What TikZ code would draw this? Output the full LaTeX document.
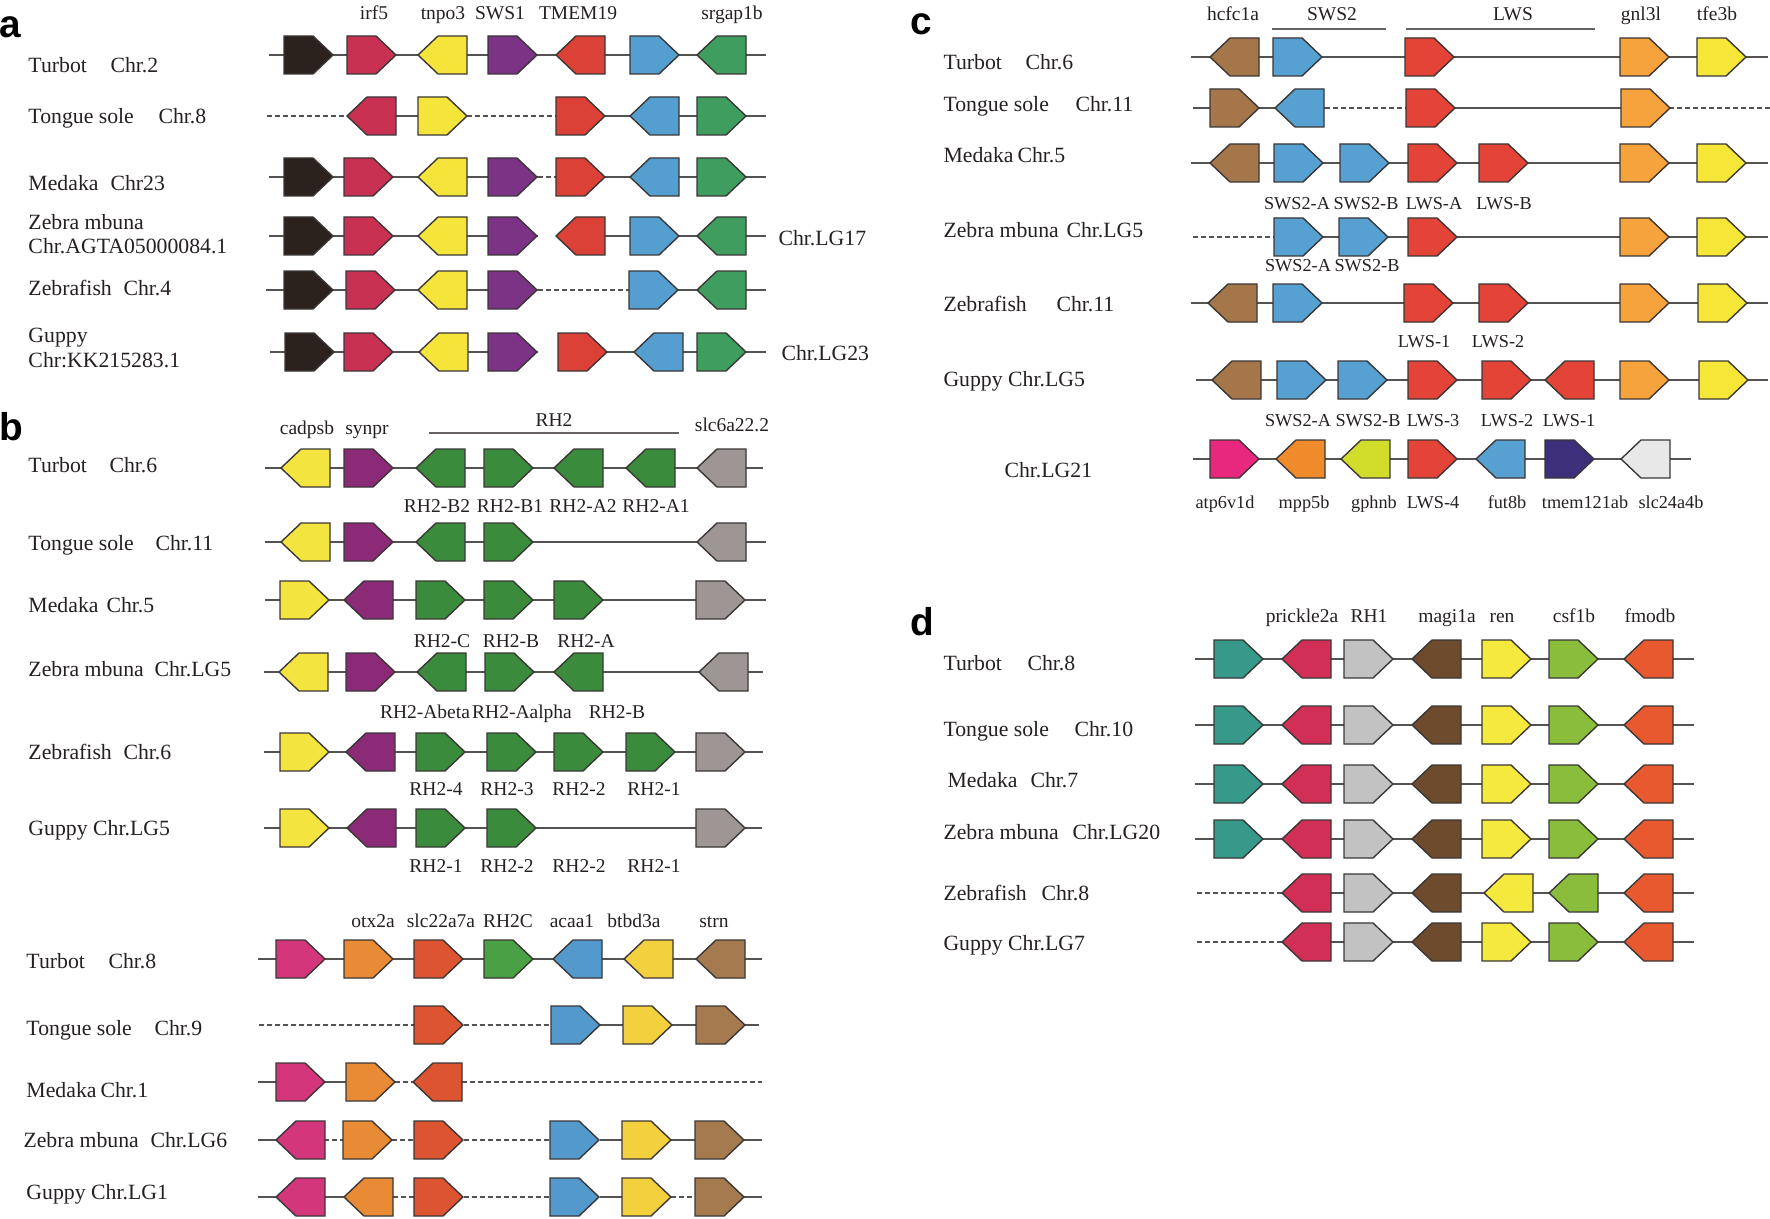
\documentclass[tikz,border=0pt]{standalone}
\usepackage{fontspec}
\setmainfont{Liberation Serif}
\newfontfamily\lettfont{Liberation Sans}
\definecolor{txt}{HTML}{262020}
\definecolor{edge}{HTML}{3A3636}
\definecolor{linec}{HTML}{555252}
\definecolor{barc}{HTML}{666262}
% panel a
\definecolor{blackg}{HTML}{2B211D}
\definecolor{pinka}{HTML}{C93153}
\definecolor{yellowa}{HTML}{F5E43A}
\definecolor{purplea}{HTML}{7D3385}
\definecolor{reda}{HTML}{DC4137}
\definecolor{bluea}{HTML}{559FD0}
\definecolor{greena}{HTML}{3F9D5F}
% panel b
\definecolor{yellowb}{HTML}{F3E43F}
\definecolor{purpleb}{HTML}{8B2B78}
\definecolor{greenb}{HTML}{3A8C3C}
\definecolor{grayb}{HTML}{9D9695}
\definecolor{magb}{HTML}{D4367B}
\definecolor{orangeb}{HTML}{E98B35}
\definecolor{redorb}{HTML}{DD5530}
\definecolor{greenbb}{HTML}{4AA045}
\definecolor{blueb}{HTML}{5499CC}
\definecolor{yellowbb}{HTML}{F3D03D}
\definecolor{brownb}{HTML}{A57A4E}
% panel c
\definecolor{brownc}{HTML}{A57649}
\definecolor{bluec}{HTML}{56A0D2}
\definecolor{redc}{HTML}{E44337}
\definecolor{orangec}{HTML}{F6A33D}
\definecolor{yellowc}{HTML}{F5E637}
\definecolor{magc}{HTML}{E8287F}
\definecolor{orangecc}{HTML}{F08B2C}
\definecolor{limec}{HTML}{D2DC2B}
\definecolor{navyc}{HTML}{3D2F7A}
\definecolor{lgrayc}{HTML}{E8E8E8}
% panel d
\definecolor{tealD}{HTML}{36998A}
\definecolor{magD}{HTML}{D22F56}
\definecolor{grayD}{HTML}{C2C2C2}
\definecolor{brownD}{HTML}{6E4B2D}
\definecolor{yellowD}{HTML}{F5E93D}
\definecolor{greenD}{HTML}{8BBD3D}
\definecolor{orangeD}{HTML}{E8592F}

\newcounter{nc}
\newcommand\GR[3]{\draw[gene,fill=#3] (#1,#2) ++(0,-19) -- ++(29,0) -- ++(20,19) -- ++(-20,19) -- ++(-29,0) -- cycle;}
\newcommand\GL[3]{\draw[gene,fill=#3] (#1,#2) -- ++(20,-19) -- ++(29,0) -- ++(0,38) -- ++(-29,0) -- cycle;}
\newcommand\ChrS[3]{\draw[chr] (#1,#3) -- (#2,#3);}
\newcommand\ChrD[3]{\draw[dline] (#1,#3) -- (#2,#3);}
\newcommand\RL[3]{\stepcounter{nc}\node[rowlab] (r\arabic{nc}) at (#1,#2) {#3};}
\newcommand\GLab[3]{\stepcounter{nc}\node[genelab] (g\arabic{nc}) at (#1,#2) {#3};}
\newcommand\SLab[3]{\stepcounter{nc}\node[sublab] (s\arabic{nc}) at (#1,#2) {#3};}

\begin{document}
\begin{tikzpicture}[x=0.4pt,y=-0.4pt,
  rowlab/.style={anchor=base west, inner sep=0pt, text=txt, font=\fontsize{8.7}{10}\selectfont},
  genelab/.style={anchor=base, inner sep=0pt, text=txt, font=\fontsize{7.8}{9}\selectfont},
  sublab/.style={anchor=base, inner sep=0pt, text=txt, font=\fontsize{7.3}{9}\selectfont},
  gene/.style={draw=edge, line width=0.55pt, line join=miter},
  chr/.style={draw=linec, line width=0.75pt},
  dline/.style={draw=linec, line width=0.75pt, dash pattern=on 1.8pt off 1.4pt},
  bar/.style={draw=barc, line width=0.8pt},
  panlab/.style={anchor=base west, inner sep=0pt, text=black, font=\lettfont\bfseries\fontsize{15.5}{17}\selectfont}]
\useasboundingbox[fill=white] (0,0) rectangle (1770,1218);

% ===== panel letters
\node[panlab] (pa) at (-1,38) {a};
\node[panlab] (pb) at (-1,440) {b};
\node[panlab] (pc) at (910,35) {c};
\node[panlab] (pd) at (910,635) {d};

% ===== panel a
\GLab{374}{20}{irf5}\GLab{443}{20}{tnpo3}\GLab{500}{20}{SWS1}\GLab{578}{20}{TMEM19}\GLab{732}{20}{srgap1b}
\RL{28}{73}{Turbot}\RL{110}{73}{Chr.2}
\RL{28}{124}{Tongue sole}\RL{158}{124}{Chr.8}
\RL{28}{191}{Medaka}\RL{110}{191}{Chr23}
\RL{28}{229}{Zebra mbuna}\RL{28}{254}{Chr.AGTA05000084.1}
\RL{28}{296}{Zebrafish}\RL{123}{296}{Chr.4}
\RL{28}{342}{Guppy}\RL{28}{367}{Chr:KK215283.1}
\RL{778}{245}{Chr.LG17}
\RL{781}{360}{Chr.LG23}

\ChrS{269}{766}{55}
\GR{284}{55}{blackg}\GR{347}{55}{pinka}\GL{418}{55}{yellowa}\GR{488}{55}{purplea}\GL{556}{55}{reda}\GR{630}{55}{bluea}\GL{697}{55}{greena}

\ChrD{267}{347}{116}\ChrS{396}{418}{116}\ChrD{467}{556}{116}\ChrS{604}{766}{116}
\GL{347}{116}{pinka}\GR{418}{116}{yellowa}\GR{556}{116}{reda}\GL{630}{116}{bluea}\GR{697}{116}{greena}

\ChrS{269}{538}{177}\ChrD{538}{556}{177}\ChrS{556}{766}{177}
\GR{284}{177}{blackg}\GR{344}{177}{pinka}\GL{418}{177}{yellowa}\GR{488}{177}{purplea}\GR{556}{177}{reda}\GL{630}{177}{bluea}\GR{697}{177}{greena}

\ChrS{269}{538}{236}\ChrS{556}{766}{236}
\GR{284}{236}{blackg}\GR{344}{236}{pinka}\GL{418}{236}{yellowa}\GR{488}{236}{purplea}\GL{556}{236}{reda}\GR{630}{236}{bluea}\GL{697}{236}{greena}

\ChrS{266}{538}{290}\ChrD{538}{630}{290}\ChrS{630}{766}{290}
\GR{284}{290}{blackg}\GR{346}{290}{pinka}\GL{418}{290}{yellowa}\GR{488}{290}{purplea}\GR{629}{290}{bluea}\GL{697}{290}{greena}

\ChrS{270}{538}{352}\ChrS{558}{766}{352}
\GR{285}{352}{blackg}\GR{344}{352}{pinka}\GL{419}{352}{yellowa}\GR{488}{352}{purplea}\GR{558}{352}{reda}\GL{634}{352}{bluea}\GR{697}{352}{greena}

% ===== panel b (upper)
\GLab{307}{434}{cadpsb}\GLab{367}{434}{synpr}\GLab{554}{426}{RH2}\GLab{732}{431}{slc6a22.2}
\draw[bar] (429,433) -- (679,433);
\RL{28}{472}{Turbot}\RL{109}{472}{Chr.6}
\RL{28}{550}{Tongue sole}\RL{155}{550}{Chr.11}
\RL{28}{612}{Medaka}\RL{106}{612}{Chr.5}
\RL{28}{676}{Zebra mbuna}\RL{154}{676}{Chr.LG5}
\RL{28}{759}{Zebrafish}\RL{123}{759}{Chr.6}
\RL{28}{835}{Guppy Chr.LG5}

\ChrS{265}{763}{468}
\GL{281}{468}{yellowb}\GR{344}{468}{purpleb}\GL{416}{468}{greenb}\GR{484}{468}{greenb}\GL{554}{468}{greenb}\GL{626}{468}{greenb}\GL{697}{468}{grayb}
\GLab{437}{512}{RH2-B2}\GLab{510}{512}{RH2-B1}\GLab{583}{512}{RH2-A2}\GLab{656}{512}{RH2-A1}

\ChrS{265}{766}{542}
\GL{281}{542}{yellowb}\GR{344}{542}{purpleb}\GL{416}{542}{greenb}\GR{484}{542}{greenb}\GL{697}{542}{grayb}

\ChrS{265}{766}{600}
\GR{280}{600}{yellowb}\GL{344}{600}{purpleb}\GR{416}{600}{greenb}\GR{484}{600}{greenb}\GR{554}{600}{greenb}\GR{696}{600}{grayb}
\GLab{442}{647}{RH2-C}\GLab{511}{647}{RH2-B}\GLab{586}{647}{RH2-A}

\ChrS{264}{763}{672}
\GL{279}{672}{yellowb}\GR{346}{672}{purpleb}\GL{417}{672}{greenb}\GR{485}{672}{greenb}\GL{554}{672}{greenb}\GL{699}{672}{grayb}
\GLab{425}{718}{RH2-Abeta}\GLab{522}{718}{RH2-Aalpha}\GLab{617}{718}{RH2-B}

\ChrS{264}{763}{752}
\GR{280}{752}{yellowb}\GL{346}{752}{purpleb}\GR{416}{752}{greenb}\GR{487}{752}{greenb}\GR{554}{752}{greenb}\GR{626}{752}{greenb}\GR{696}{752}{grayb}
\GLab{436}{795}{RH2-4}\GLab{507}{795}{RH2-3}\GLab{579}{795}{RH2-2}\GLab{654}{795}{RH2-1}

\ChrS{264}{762}{828}
\GR{280}{828}{yellowb}\GL{347}{828}{purpleb}\GR{416}{828}{greenb}\GR{487}{828}{greenb}\GR{696}{828}{grayb}
\GLab{436}{872}{RH2-1}\GLab{507}{872}{RH2-2}\GLab{579}{872}{RH2-2}\GLab{654}{872}{RH2-1}

% ===== panel b (lower)
\GLab{373}{927}{otx2a}\GLab{441}{927}{slc22a7a}\GLab{508}{927}{RH2C}\GLab{572}{927}{acaa1}\GLab{634}{927}{btbd3a}\GLab{714}{927}{strn}
\RL{26}{968}{Turbot}\RL{108}{968}{Chr.8}
\RL{26}{1035}{Tongue sole}\RL{154}{1035}{Chr.9}
\RL{26}{1097}{Medaka}\RL{100}{1097}{Chr.1}
\RL{23}{1147}{Zebra mbuna}\RL{150}{1147}{Chr.LG6}
\RL{26}{1199}{Guppy Chr.LG1}

\ChrS{258}{762}{959}
\GR{276}{959}{magb}\GR{344}{959}{orangeb}\GR{414}{959}{redorb}\GR{484}{959}{greenbb}\GL{553}{959}{blueb}\GL{624}{959}{yellowbb}\GL{696}{959}{brownb}

\ChrD{259}{414}{1025}\ChrD{464}{551}{1025}\ChrS{600}{759}{1025}
\GR{414}{1025}{redorb}\GR{551}{1025}{blueb}\GR{623}{1025}{yellowbb}\GR{696}{1025}{brownb}

\ChrS{258}{346}{1082}\ChrD{395}{413}{1082}\ChrD{462}{762}{1082}
\GR{276}{1082}{magb}\GR{346}{1082}{orangeb}\GL{413}{1082}{redorb}

\ChrS{258}{276}{1140}\ChrD{324}{343}{1140}\ChrD{392}{414}{1140}\ChrD{464}{550}{1140}\ChrS{600}{762}{1140}
\GL{276}{1140}{magb}\GR{343}{1140}{orangeb}\GR{414}{1140}{redorb}\GR{550}{1140}{blueb}\GR{622}{1140}{yellowbb}\GR{695}{1140}{brownb}

\ChrS{258}{344}{1197}\ChrD{393}{414}{1197}\ChrD{464}{550}{1197}\ChrS{600}{672}{1197}\ChrD{671}{695}{1197}\ChrS{744}{762}{1197}
\GL{276}{1197}{magb}\GL{344}{1197}{orangeb}\GR{414}{1197}{redorb}\GR{550}{1197}{blueb}\GR{622}{1197}{yellowbb}\GR{695}{1197}{brownb}

% ===== panel c
\GLab{1233}{21}{hcfc1a}\GLab{1332}{21}{SWS2}\GLab{1513}{21}{LWS}\GLab{1641}{21}{gnl3l}\GLab{1717}{21}{tfe3b}
\draw[bar] (1272,29) -- (1386,29);
\draw[bar] (1406,29) -- (1595,29);
\RL{943}{70}{Turbot}\RL{1025}{70}{Chr.6}
\RL{943}{112}{Tongue sole}\RL{1075}{112}{Chr.11}
\RL{943}{163}{Medaka}\RL{1017}{163}{Chr.5}
\RL{943}{238}{Zebra mbuna}\RL{1066}{238}{Chr.LG5}
\RL{943}{312}{Zebrafish}\RL{1056}{312}{Chr.11}
\RL{943}{386}{Guppy Chr.LG5}
\RL{1004}{477}{Chr.LG21}

\ChrS{1191}{1768}{57}
\GL{1210}{57}{brownc}\GR{1273}{57}{bluec}\GR{1405}{57}{redc}\GR{1620}{57}{orangec}\GR{1697}{57}{yellowc}

\ChrS{1193}{1325}{108}\ChrD{1325}{1406}{108}\ChrS{1406}{1669}{108}\ChrD{1669}{1770}{108}
\GR{1210}{108}{brownc}\GL{1275}{108}{bluec}\GR{1406}{108}{redc}\GR{1621}{108}{orangec}

\ChrS{1191}{1768}{163}
\GL{1210}{163}{brownc}\GR{1274}{163}{bluec}\GR{1340}{163}{bluec}\GR{1408}{163}{redc}\GR{1479}{163}{redc}\GR{1620}{163}{orangec}\GR{1697}{163}{yellowc}
\SLab{1297}{210}{SWS2-A}\SLab{1366}{210}{SWS2-B}\SLab{1434}{210}{LWS-A}\SLab{1504}{210}{LWS-B}

\ChrD{1193}{1274}{237}\ChrS{1274}{1768}{237}
\GR{1274}{237}{bluec}\GR{1339}{237}{bluec}\GR{1408}{237}{redc}\GR{1620}{237}{orangec}\GR{1697}{237}{yellowc}
\SLab{1298}{272}{SWS2-A}\SLab{1367}{272}{SWS2-B}

\ChrS{1191}{1768}{303}
\GL{1208}{303}{brownc}\GR{1273}{303}{bluec}\GR{1404}{303}{redc}\GR{1479}{303}{redc}\GR{1620}{303}{orangec}\GR{1698}{303}{yellowc}
\SLab{1424}{347}{LWS-1}\SLab{1498}{347}{LWS-2}

\ChrS{1196}{1768}{380}
\GL{1212}{380}{brownc}\GR{1277}{380}{bluec}\GR{1338}{380}{bluec}\GR{1408}{380}{redc}\GR{1482}{380}{redc}\GL{1545}{380}{redc}\GR{1620}{380}{orangec}\GR{1699}{380}{yellowc}
\SLab{1298}{426}{SWS2-A}\SLab{1368}{426}{SWS2-B}\SLab{1433}{426}{LWS-3}\SLab{1507}{426}{LWS-2}\SLab{1569}{426}{LWS-1}

\ChrS{1193}{1691}{459}
\GR{1210}{459}{magc}\GL{1276}{459}{orangecc}\GL{1341}{459}{limec}\GR{1408}{459}{redc}\GL{1476}{459}{bluec}\GR{1545}{459}{navyc}\GL{1621}{459}{lgrayc}
\SLab{1225}{508}{atp6v1d}\SLab{1304}{508}{mpp5b}\SLab{1374}{508}{gphnb}\SLab{1433}{508}{LWS-4}\SLab{1507}{508}{fut8b}\SLab{1585}{508}{tmem121ab}\SLab{1671}{508}{slc24a4b}

% ===== panel d
\GLab{1302}{622}{prickle2a}\GLab{1369}{622}{RH1}\GLab{1447}{622}{magi1a}\GLab{1502}{622}{ren}\GLab{1574}{622}{csf1b}\GLab{1650}{622}{fmodb}
\RL{943}{670}{Turbot}\RL{1027}{670}{Chr.8}
\RL{943}{736}{Tongue sole}\RL{1074}{736}{Chr.10}
\RL{947}{787}{Medaka}\RL{1030}{787}{Chr.7}
\RL{943}{839}{Zebra mbuna}\RL{1072}{839}{Chr.LG20}
\RL{943}{900}{Zebrafish}\RL{1041}{900}{Chr.8}
\RL{943}{950}{Guppy Chr.LG7}

\foreach \yy in {659,725,784,839}{
  \ChrS{1195}{1694}{\yy}
  \GR{1214}{\yy}{tealD}\GL{1282}{\yy}{magD}\GR{1344}{\yy}{grayD}\GL{1412}{\yy}{brownD}\GR{1482}{\yy}{yellowD}\GR{1549}{\yy}{greenD}\GL{1624}{\yy}{orangeD}
}

\ChrD{1197}{1282}{893}\ChrS{1282}{1694}{893}
\GL{1282}{893}{magD}\GR{1344}{893}{grayD}\GL{1412}{893}{brownD}\GL{1484}{893}{yellowD}\GL{1549}{893}{greenD}\GL{1624}{893}{orangeD}

\ChrD{1197}{1282}{942}\ChrS{1282}{1694}{942}
\GL{1282}{942}{magD}\GR{1344}{942}{grayD}\GL{1412}{942}{brownD}\GR{1482}{942}{yellowD}\GR{1549}{942}{greenD}\GL{1624}{942}{orangeD}

\end{tikzpicture}
\end{document}
